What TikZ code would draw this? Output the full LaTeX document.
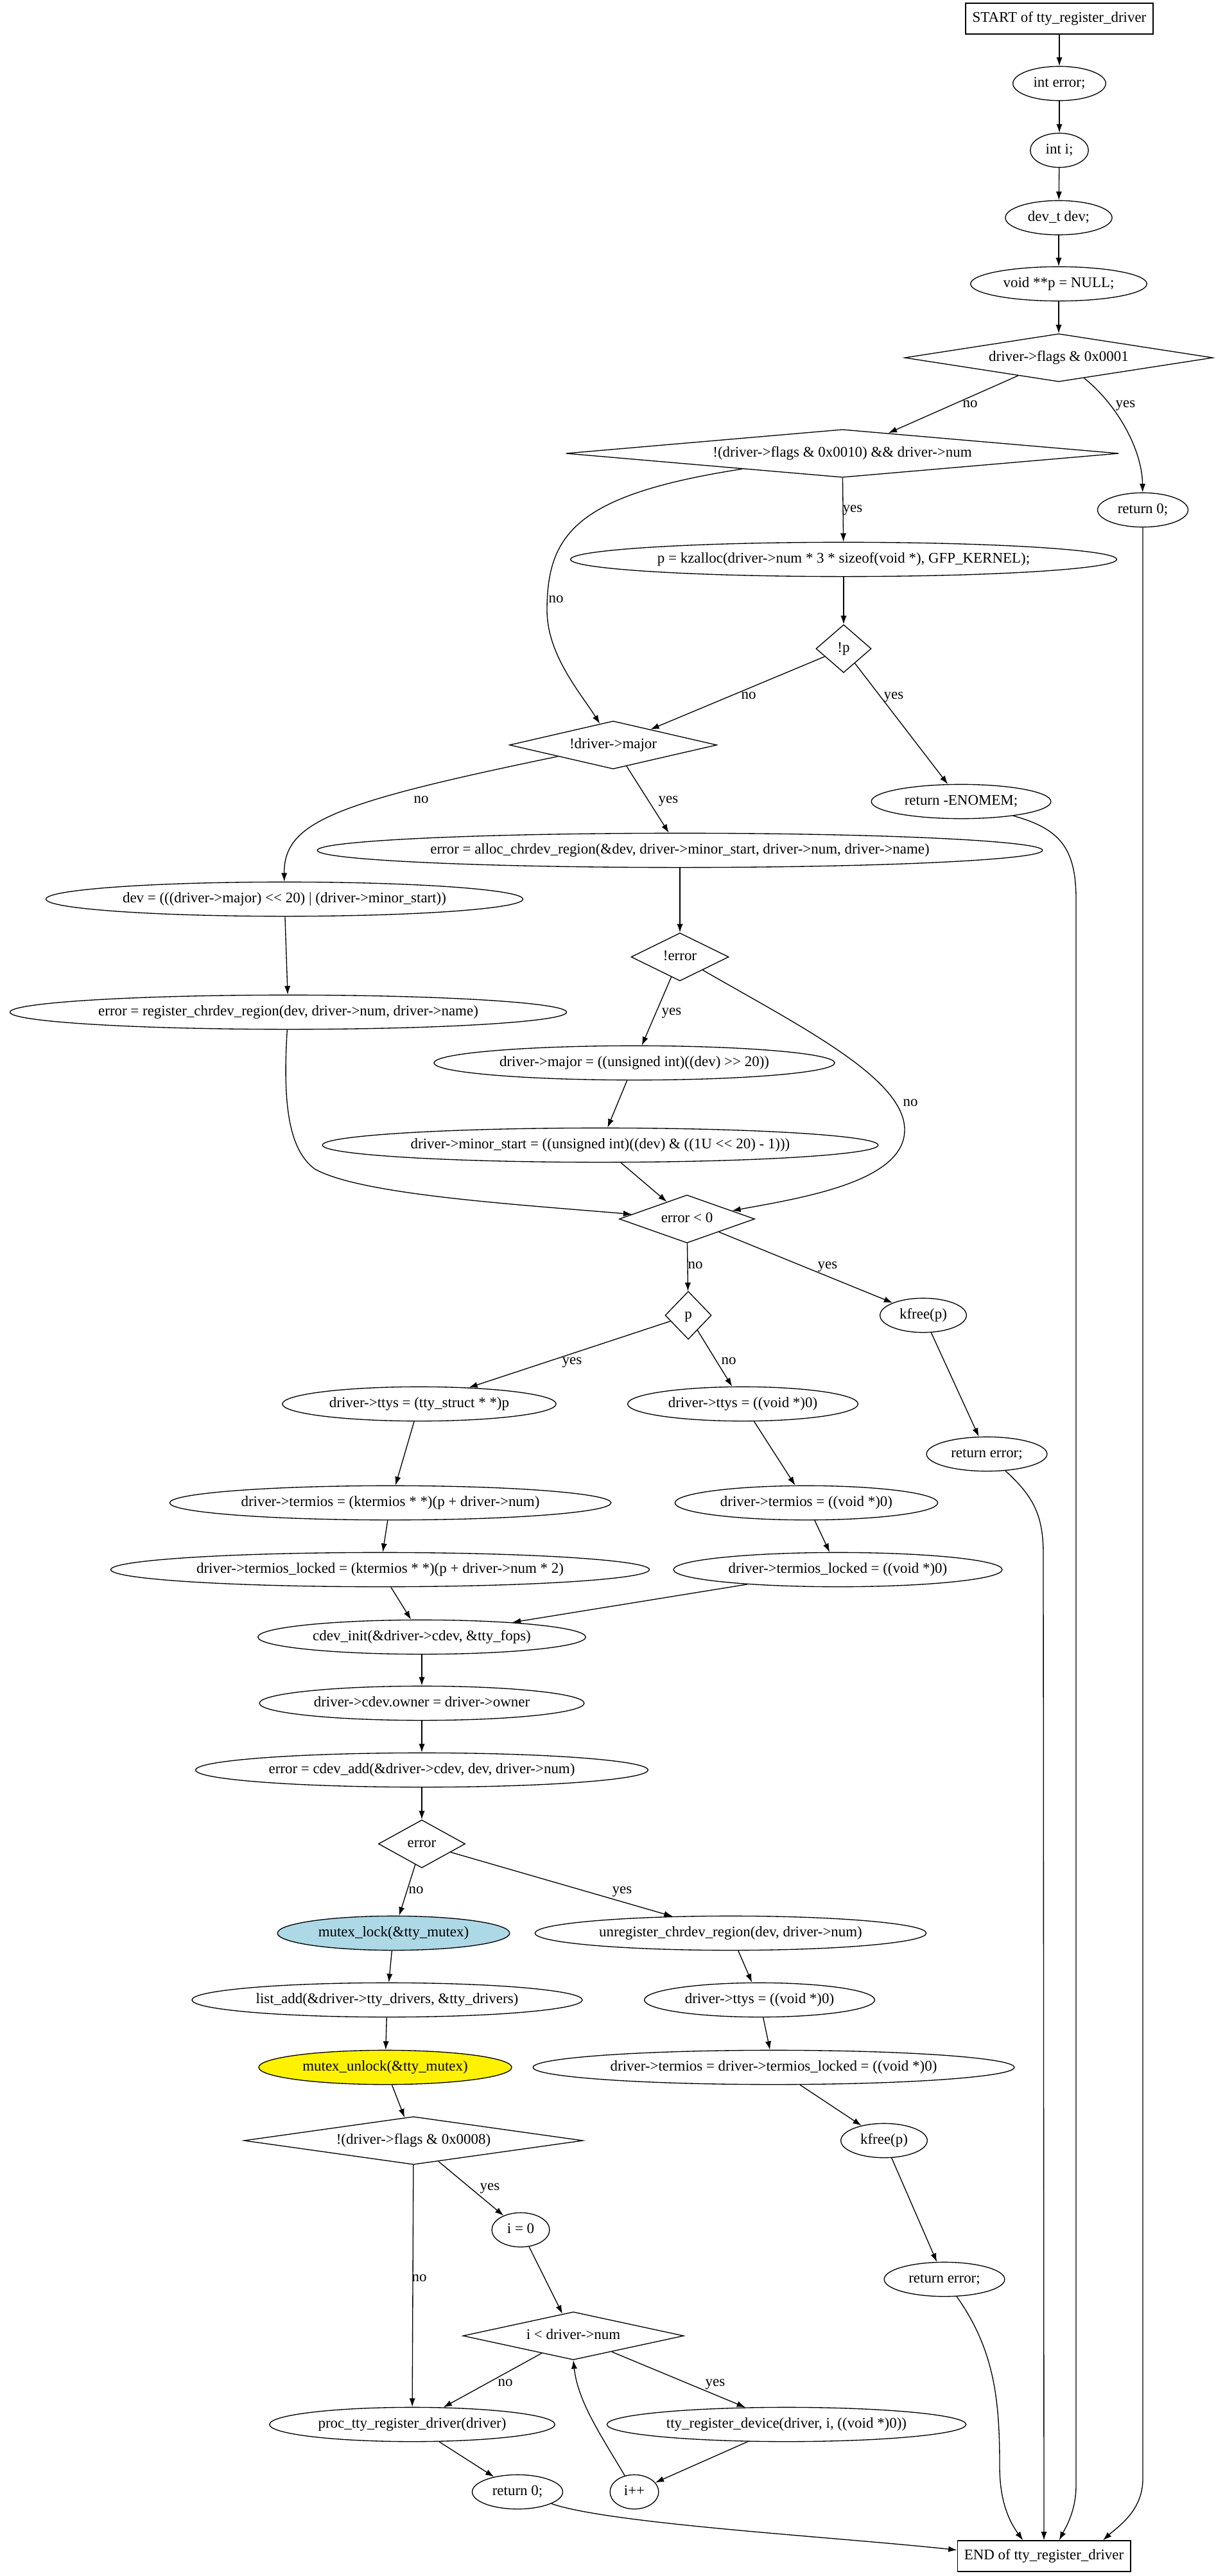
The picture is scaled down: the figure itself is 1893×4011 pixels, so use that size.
\documentclass[tikz,border=0pt]{standalone}
\usepackage{fontspec}
\setmainfont{Liberation Serif}[Ligatures=TeXOff]
\usetikzlibrary{shapes.geometric,arrows.meta}
\definecolor{lightblue}{HTML}{ADD8E6}

\begin{document}
\begin{tikzpicture}[x=0.75pt, y=-0.75pt, line width=1pt,
  every node/.style={font=\fontsize{17.2}{20}\selectfont, text height=12.5pt, text depth=3.8pt},
  stmt/.style={draw, ellipse, inner xsep=8pt, inner ysep=0pt, minimum width=54pt, minimum height=40pt},
  term/.style={draw, rectangle, inner xsep=8pt, inner ysep=0pt, minimum height=36pt},
  cond/.style={draw, diamond, inner sep=0pt, minimum height=56pt},
  lbl/.style={inner sep=0pt},
  flow/.style={-{Latex[length=10pt,width=7pt]}}]
\useasboundingbox (0,0) rectangle (1893,4011);

% declarations and the first tests
\node[term] (start) at (1650,29) {START of tty\_register\_driver};
\node[stmt] (interr) at (1650,130) {int error;};
\node[stmt] (inti) at (1650,234) {int i;};
\node[stmt] (devt) at (1649,339) {dev\_t dev;};
\node[stmt] (voidp) at (1649,442) {void **p = NULL;};
\node[cond, minimum width=360pt, aspect=6.6] (flagsA) at (1649,557) {driver->flags \& 0x0001};
\node[cond, minimum width=645.75pt, aspect=11.6] (flagsB) at (1312,706) {!(driver->flags \& 0x0010) \&\& driver->num};
\node[stmt] (retzA) at (1780,794) {return 0;};
\node[stmt] (kzalloc) at (1314,871) {p = kzalloc(driver->num * 3 * sizeof(void *), GFP\_KERNEL);};
\node[cond, minimum width=64.5pt, aspect=1.16] (notp) at (1314,1010) {!p};
\node[cond, minimum width=242.25pt, aspect=4.36] (major) at (955,1160) {!driver->major};
\node[stmt] (enomem) at (1497,1248) {return -ENOMEM;};

% major and minor numbers
\node[stmt] (alloc) at (1059,1324) {error = alloc\_chrdev\_region(\&dev, driver->minor\_start, driver->num, driver->name)};
\node[stmt] (devset) at (443,1400) {dev = (((driver->major) << 20) | (driver->minor\_start))};
\node[cond, minimum width=114pt, aspect=2.03] (noterr) at (1059,1490) {!error};
\node[stmt] (regchr) at (449,1576) {error = register\_chrdev\_region(dev, driver->num, driver->name)};
\node[stmt] (setmajor) at (988,1655) {driver->major = ((unsigned int)((dev) >> 20))};
\node[stmt] (setminor) at (935,1783) {driver->minor\_start = ((unsigned int)((dev) \& ((1U << 20) - 1)))};
\node[cond, minimum width=158.25pt, aspect=2.81] (errneg) at (1070,1898) {error < 0};

% tables
\node[cond, minimum width=54pt, aspect=0.97] (pdia) at (1072,2048) {p};
\node[stmt] (kfreeA) at (1438,2048) {kfree(p)};
\node[stmt] (ttysA) at (653,2186) {driver->ttys = (tty\_struct * *)p};
\node[stmt] (ttysB) at (1157,2186) {driver->ttys = ((void *)0)};
\node[stmt] (reterrA) at (1537,2264) {return error;};
\node[stmt] (termA) at (608,2340) {driver->termios = (ktermios * *)(p + driver->num)};
\node[stmt] (termB) at (1256,2340) {driver->termios = ((void *)0)};
\node[stmt] (lockA) at (592,2444) {driver->termios\_locked = (ktermios * *)(p + driver->num * 2)};
\node[stmt] (lockB) at (1305,2444) {driver->termios\_locked = ((void *)0)};
\node[stmt] (cdevinit) at (657,2549) {cdev\_init(\&driver->cdev, \&tty\_fops)};
\node[stmt] (owner) at (657,2652) {driver->cdev.owner = driver->owner};
\node[stmt] (cdevadd) at (657,2756) {error = cdev\_add(\&driver->cdev, dev, driver->num)};
\node[cond, minimum width=101.25pt, aspect=1.82] (errdia) at (657,2871) {error};

% list, undo path and devices
\node[stmt, fill=lightblue] (lock) at (613,3010) {mutex\_lock(\&tty\_mutex)};
\node[stmt] (unreg) at (1138,3010) {unregister\_chrdev\_region(dev, driver->num)};
\node[stmt] (listadd) at (603,3114) {list\_add(\&driver->tty\_drivers, \&tty\_drivers)};
\node[stmt] (ttysC) at (1183,3114) {driver->ttys = ((void *)0)};
\node[stmt, fill=yellow] (unlock) at (600,3219) {mutex\_unlock(\&tty\_mutex)};
\node[stmt] (termC) at (1205,3219) {driver->termios = driver->termios\_locked = ((void *)0)};
\node[cond, minimum width=396pt, aspect=7.04] (flagsC) at (644,3333) {!(driver->flags \& 0x0008)};
\node[stmt] (kfreeB) at (1377,3333) {kfree(p)};
\node[stmt] (izero) at (811,3472) {i = 0};
\node[stmt] (reterrB) at (1471,3549) {return error;};
\node[cond, minimum width=258pt, aspect=4.65] (iless) at (893,3637) {i < driver->num};
\node[stmt] (proc) at (642,3775) {proc\_tty\_register\_driver(driver)};
\node[stmt] (regdev) at (1225,3775) {tty\_register\_device(driver, i, ((void *)0))};
\node[stmt] (retzB) at (806,3880) {return 0;};
\node[stmt] (iinc) at (988,3880) {i++};
\node[term] (end) at (1626,3980) {END of tty\_register\_driver};

% connectors
\draw[flow] (start) -- (interr);
\draw[flow] (interr) -- (inti);
\draw[flow] (inti) -- (devt);
\draw[flow] (devt) -- (voidp);
\draw[flow] (voidp) -- (flagsA);
\draw[flow] (flagsA) -- (flagsB);
\draw[flow] (flagsA) .. controls (1740,630) and (1779,700) .. (retzA);
\draw[flow] (flagsB) -- (kzalloc);
\draw[flow] (flagsB) .. controls (900,770) and (852,830) .. (852,950) .. controls (852,1020) and (905,1080) .. (major);
\draw[flow] (kzalloc) -- (notp);
\draw[flow] (notp) -- (major);
\draw[flow] (notp) -- (enomem);
\draw[flow] (major) .. controls (520,1250) and (442,1280) .. (devset);
\draw[flow] (major) -- (alloc);
\draw[flow] (devset) -- (regchr);
\draw[flow] (alloc) -- (noterr);
\draw[flow] (noterr) -- (setmajor);
\draw[flow] (noterr) .. controls (1250,1600) and (1410,1680) .. (1409,1760) .. controls (1408,1840) and (1250,1865) .. (errneg);
\draw[flow] (setmajor) -- (setminor);
\draw[flow] (setminor) -- (errneg);
\draw[flow] (regchr) .. controls (440,1720) and (450,1790) .. (490,1820) .. controls (560,1860) and (800,1875) .. (errneg);
\draw[flow] (errneg) -- (pdia);
\draw[flow] (errneg) -- (kfreeA);
\draw[flow] (kfreeA) -- (reterrA);
\draw[flow] (pdia) -- (ttysA);
\draw[flow] (pdia) -- (ttysB);
\draw[flow] (ttysA) -- (termA);
\draw[flow] (termA) -- (lockA);
\draw[flow] (lockA) -- (cdevinit);
\draw[flow] (ttysB) -- (termB);
\draw[flow] (termB) -- (lockB);
\draw[flow] (lockB) -- (cdevinit);
\draw[flow] (cdevinit) -- (owner);
\draw[flow] (owner) -- (cdevadd);
\draw[flow] (cdevadd) -- (errdia);
\draw[flow] (errdia) -- (lock);
\draw[flow] (errdia) -- (unreg);
\draw[flow] (lock) -- (listadd);
\draw[flow] (listadd) -- (unlock);
\draw[flow] (unlock) -- (flagsC);
\draw[flow] (unreg) -- (ttysC);
\draw[flow] (ttysC) -- (termC);
\draw[flow] (termC) -- (kfreeB);
\draw[flow] (kfreeB) -- (reterrB);
\draw[flow] (flagsC) -- (izero);
\draw[flow] (flagsC) -- (proc);
\draw[flow] (izero) -- (iless);
\draw[flow] (iless) -- (proc);
\draw[flow] (iless) -- (regdev);
\draw[flow] (proc) -- (retzB);
\draw[flow] (regdev) -- (iinc);
\draw[flow] (iinc) .. controls (938,3795) and (900,3740) .. (iless.south);

% exits into END
\draw[flow] (retzB) .. controls (950,3930) and (1300,3950) .. (end.176);
\draw[flow] (reterrA) .. controls (1610,2330) and (1625,2360) .. (1625,2420) -- (end.north);
\draw[flow] (enomem) .. controls (1650,1290) and (1676,1320) .. (1676,1400) -- (1676,3870) .. controls (1676,3910) and (1660,3935) .. (end.46);
\draw[flow] (retzA) -- (1780,3860) .. controls (1780,3910) and (1740,3935) .. (end.15);
\draw[flow] (reterrB) .. controls (1550,3660) and (1557,3740) .. (1557,3840) .. controls (1557,3900) and (1575,3930) .. (end.143);

% yes/no labels
\node[lbl] (flagsAno) at (1511,629) {no};
\node[lbl] (flagsAyes) at (1753,629) {yes};
\node[lbl] (flagsByes) at (1328,792) {yes};
\node[lbl] (flagsBno) at (866,933) {no};
\node[lbl] (notpno) at (1166,1083) {no};
\node[lbl] (notpyes) at (1392,1083) {yes};
\node[lbl] (majorno) at (656,1245) {no};
\node[lbl] (majoryes) at (1041,1245) {yes};
\node[lbl] (noterryes) at (1046,1575) {yes};
\node[lbl] (noterrno) at (1418,1717) {no};
\node[lbl] (errnegno) at (1083,1970) {no};
\node[lbl] (errnegyes) at (1289,1970) {yes};
\node[lbl] (pyes) at (891,2119) {yes};
\node[lbl] (pno) at (1135,2119) {no};
\node[lbl] (errno) at (648,2943) {no};
\node[lbl] (erryes) at (969,2943) {yes};
\node[lbl] (flagsCyes) at (763,3405) {yes};
\node[lbl] (flagsCno) at (653,3547) {no};
\node[lbl] (ilessno) at (787,3710) {no};
\node[lbl] (ilessyes) at (1114,3710) {yes};
\end{tikzpicture}
\end{document}
